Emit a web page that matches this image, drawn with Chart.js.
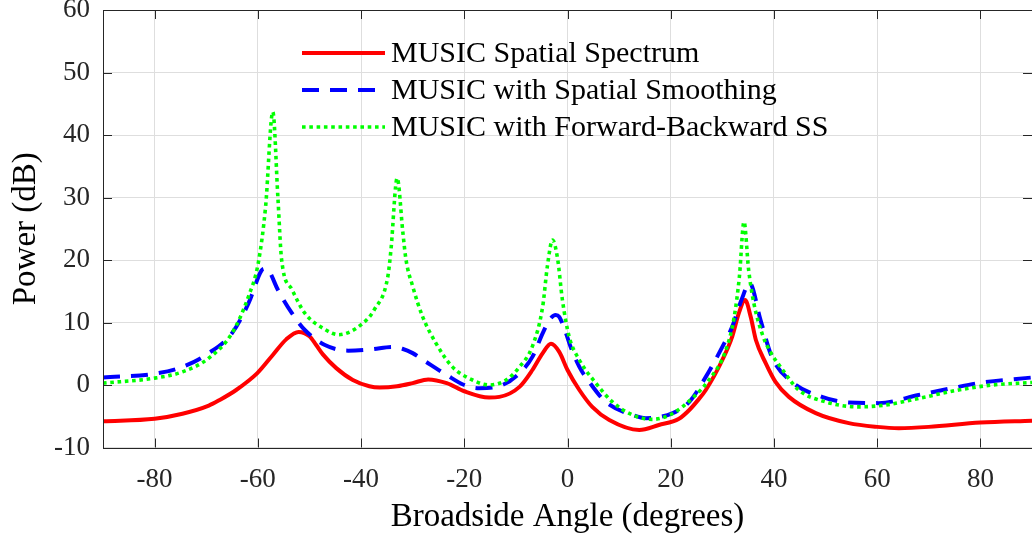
<!DOCTYPE html>
<html>
<head>
<meta charset="utf-8">
<script src="https://cdn.jsdelivr.net/npm/chart.js@4.4.1/dist/chart.umd.min.js"></script>
<style>
  html, body { margin: 0; padding: 0; background: #fff; }
  #wrap { width: 1032px; height: 541px; }
</style>
</head>
<body>
<div id="wrap"><canvas id="spectrumChart"></canvas></div>
<script>
const seriesNames = [
    'MUSIC Spatial Spectrum',
    'MUSIC with Spatial Smoothing',
    'MUSIC with Forward-Backward SS',
];

// plain MUSIC
const musicAngles = [-90, -80, -74.6, -69.5, -67.4, -64.2, -60.1, -57.1, -54.5, -52.1, -50, -48.7, -47.4, -44.8, -41.6, -38.4, -36.4, -33, -30, -27, -23.4, -20, -15.2, -13.2, -9.3, -6.8, -4.8, -3.2, -1.6, 0, 2.3, 4.8, 8.1, 13.9, 17.7, 21.6, 23.6, 25.2, 26.8, 30, 31.9, 33.2, 34.4, 35.5, 36.5, 38.4, 40.3, 42.9, 48.1, 54.5, 60, 64.2, 70, 80, 90];
const musicPower = [-5.8, -5.4, -4.6, -3.3, -2.4, -0.8, 1.9, 4.8, 7.3, 8.5, 7.8, 6.4, 4.9, 2.7, 0.8, -0.2, -0.4, -0.2, 0.3, 0.9, 0.3, -1.0, -2.0, -1.9, -0.3, 2.4, 5.1, 6.6, 5.3, 2.4, -0.8, -3.5, -5.6, -7.2, -6.4, -5.4, -4.0, -2.5, -0.8, 4.0, 7.7, 11.5, 13.6, 10.9, 7.2, 3.5, 0.5, -1.9, -4.5, -6.1, -6.7, -6.9, -6.7, -6.0, -5.7];

// spatial smoothing
const ssAngles = [-90, -80, -74.6, -69.5, -65, -61.8, -59.3, -58.7, -58, -56.1, -53.4, -50.9, -47, -42.5, -38, -34, -32, -30, -27.4, -23.4, -20, -17.1, -12.6, -9.3, -6.8, -4.8, -3.5, -2.3, -1.6, -0.3, 0.6, 2.3, 4.2, 7.4, 12.6, 15.2, 20.4, 23.6, 26.8, 30, 31.9, 33.7, 35.3, 37.4, 39.6, 43.5, 49.3, 54.5, 60.3, 68, 74.5, 80.3, 88.7, 90];
const ssPower = [1.2, 1.8, 2.9, 5.1, 8.3, 13.1, 18.3, 18.6, 18.4, 15.2, 11.5, 8.8, 6.4, 5.5, 5.7, 6.1, 5.8, 5.1, 3.7, 1.6, 0.0, -0.5, 0.0, 1.9, 4.5, 8.3, 10.4, 11.2, 10.9, 8.3, 6.1, 2.9, 0.5, -2.7, -4.8, -5.3, -4.5, -2.7, 1.3, 6.1, 9.3, 13.6, 16.3, 10.4, 4.5, 0.5, -1.9, -2.8, -2.9, -1.6, -0.5, 0.4, 1.1, 1.2];

// forward-backward spatial smoothing
const fbAngles = [-90, -80, -74.6, -69.5, -65, -61.8, -59.9, -58.5, -57.1, -56.1, -55.4, -53.4, -50.9, -47, -44.4, -39.9, -37.4, -34.8, -34.2, -33, -31.9, -31.3, -30, -28.1, -25.5, -22.3, -18.4, -15.2, -11.9, -9.3, -6.8, -4.8, -3.9, -2.9, -1.9, -1, 0.3, 2.3, 5.5, 8.7, 12.6, 16.4, 20.3, 24.2, 27.4, 30.7, 32.3, 33.3, 34.2, 35.1, 36.1, 37.8, 39.1, 41.7, 44.8, 50, 56.4, 61.6, 69.4, 75.8, 82.3, 90];
const fbPower = [0.3, 1.1, 2.1, 4.3, 8.3, 14.2, 19.6, 28.5, 43.7, 29.8, 20.1, 15.3, 11.5, 8.9, 8.05, 9.7, 12.1, 17.4, 21.7, 33.1, 24.4, 20.1, 15.8, 11.0, 6.7, 2.9, 0.8, 0.0, 0.8, 2.9, 6.2, 12.6, 19.0, 23.2, 20.1, 13.7, 7.8, 4.0, 0.3, -2.7, -4.8, -5.5, -4.6, -2.1, 0.8, 5.6, 10.9, 17.3, 26.1, 18.4, 13.1, 8.0, 5.6, 2.4, -0.8, -2.7, -3.5, -3.2, -1.9, -0.8, 0.0, 0.4];

const xTickValues = [-80, -60, -40, -20, 0, 20, 40, 60, 80];
const yTickValues = [-10, 0, 10, 20, 30, 40, 50, 60];

const toPoints = (xs, ys) => xs.map((x, i) => ({ x: x, y: ys[i] }));

const serif = '"Liberation Serif", "Times New Roman", serif';
const axisColor = '#262626';

const lineStyles = [
    { color: '#ff0000', width: 4, dash: [] },
    { color: '#0000ff', width: 4, dash: [17, 11] },
    { color: '#00ff00', width: 3.6, dash: [3.6, 3.7] },
];

const data = {
    datasets: [
        { label: seriesNames[0], data: toPoints(musicAngles, musicPower), order: 2 },
        { label: seriesNames[1], data: toPoints(ssAngles, ssPower), order: 1 },
        { label: seriesNames[2], data: toPoints(fbAngles, fbPower), order: 0 },
    ].map((ds, i) => Object.assign(ds, {
        borderColor: lineStyles[i].color,
        borderWidth: lineStyles[i].width,
        borderDash: lineStyles[i].dash,
        borderCapStyle: 'butt',
        pointRadius: 0,
        fill: false,
        cubicInterpolationMode: 'monotone',
    })),
};

// MATLAB style box with inward ticks, plus the legend inside the axes
const boxAndLegend = {
    id: 'boxAndLegend',
    afterDatasetsDraw(chart) {
        const ctx = chart.ctx;
        const area = chart.chartArea;
        const xs = chart.scales.x;
        const ys = chart.scales.y;
        const tickLen = 9;

        ctx.save();
        ctx.strokeStyle = axisColor;
        ctx.lineWidth = 1;
        ctx.setLineDash([]);
        ctx.strokeRect(Math.round(area.left) + 0.5, Math.round(area.top) + 0.5,
            Math.round(area.right - area.left), Math.round(area.bottom - area.top));
        ctx.beginPath();
        xTickValues.forEach(v => {
            const px = Math.round(xs.getPixelForValue(v)) + 0.5;
            ctx.moveTo(px, area.bottom);
            ctx.lineTo(px, area.bottom - tickLen);
            ctx.moveTo(px, area.top);
            ctx.lineTo(px, area.top + tickLen);
        });
        yTickValues.forEach(v => {
            const py = Math.round(ys.getPixelForValue(v)) + 0.5;
            ctx.moveTo(area.left, py);
            ctx.lineTo(area.left + tickLen, py);
            ctx.moveTo(area.right, py);
            ctx.lineTo(area.right - tickLen, py);
        });
        ctx.stroke();

        // legend
        ctx.font = '30px ' + serif;
        ctx.textBaseline = 'middle';
        ctx.fillStyle = '#000';
        seriesNames.forEach((name, i) => {
            const y = 53 + i * 37;
            const st = lineStyles[i];
            ctx.beginPath();
            ctx.strokeStyle = st.color;
            ctx.lineWidth = st.width;
            ctx.lineCap = 'butt';
            ctx.setLineDash(st.dash);
            ctx.moveTo(302, y);
            ctx.lineTo(385, y);
            ctx.stroke();
            ctx.fillText(name, 391, y + 1);
        });
        ctx.restore();
    }
};

const config = {
    type: 'line',
    data: data,
    options: {
        responsive: true,
        maintainAspectRatio: false,
        animation: false,
        layout: {
            padding: { top: 10, right: -1, left: 0, bottom: 0 },
        },
        plugins: {
            legend: { display: false },
            tooltip: { enabled: false },
        },
        scales: {
            x: {
                type: 'linear',
                min: -90,
                max: 90,
                afterBuildTicks: scale => {
                    scale.ticks = xTickValues.map(v => ({ value: v }));
                },
                afterFit: scale => {
                    scale.height = 93.5;
                    scale.paddingLeft = 0;
                    scale.paddingRight = 0;
                },
                grid: { color: '#dedede', drawTicks: false },
                border: { display: false },
                ticks: {
                    padding: 16,
                    color: axisColor,
                    font: { family: serif, size: 27 },
                    maxRotation: 0,
                },
                title: {
                    display: true,
                    text: 'Broadside Angle (degrees)',
                    color: '#000',
                    font: { family: serif, size: 33 },
                    padding: { top: 4, bottom: 4 },
                },
            },
            y: {
                min: -10,
                max: 60,
                afterBuildTicks: scale => {
                    scale.ticks = yTickValues.map(v => ({ value: v }));
                },
                afterFit: scale => {
                    scale.width = 103;
                    scale.paddingTop = 0;
                    scale.paddingBottom = 0;
                },
                grid: { color: '#dedede', drawTicks: false },
                border: { display: false },
                ticks: {
                    padding: 13,
                    color: axisColor,
                    font: { family: serif, size: 27 },
                },
                title: {
                    display: true,
                    text: 'Power (dB)',
                    color: '#000',
                    font: { family: serif, size: 33 },
                    padding: { top: 7, bottom: 4 },
                },
            },
        },
    },
    plugins: [boxAndLegend],
};

const spectrumChart = new Chart(
    document.getElementById('spectrumChart'),
    config
);
</script>
</body>
</html>
